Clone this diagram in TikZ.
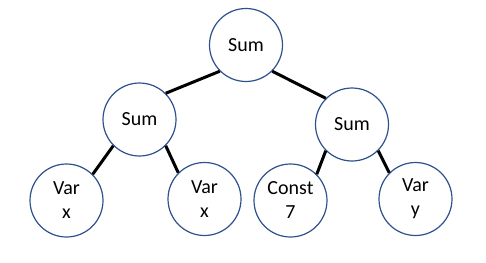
\documentclass[tikz,border=0pt]{standalone}
\usepackage{fontspec}
\setmainfont{Carlito}
\usepackage{tikz}
\usetikzlibrary{positioning}
\usepackage{xcolor}
\definecolor{termblue}{HTML}{2F528F}

\begin{document}
\begin{tikzpicture}[
    x=1pt, y=-1pt,
    term/.style={circle, draw=termblue, line width=1.2pt, fill=white, minimum size=73pt, inner sep=0pt, align=center, font=\fontsize{20}{24}\selectfont},
    link/.style={line width=3pt},
]
\useasboundingbox (0,0) rectangle (486,262);

\node[term] (root) at (246,45) {Sum};
\node[term] (suml) at (139.5,119.5) {Sum};
\node[term] (sumr) at (352,124.5) {Sum};

\node[term] (varx) at (66.5,200.5) {Var\\x};
\node[term] (varxx) at (204.5,199) {Var\\x};
\node[term] (const) at (290.5,200.5) {Const\\7};
\node[term] (vary) at (415.5,199) {Var\\y};

\foreach \p/\c in {root/suml, suml/varx, sumr/const} {
    \draw[link] (\p.south west) -- (\c.north east);
}
\foreach \p/\c in {root/sumr, suml/varxx, sumr/vary} {
    \draw[link] (\p.south east) -- (\c.north west);
}
\end{tikzpicture}
\end{document}
